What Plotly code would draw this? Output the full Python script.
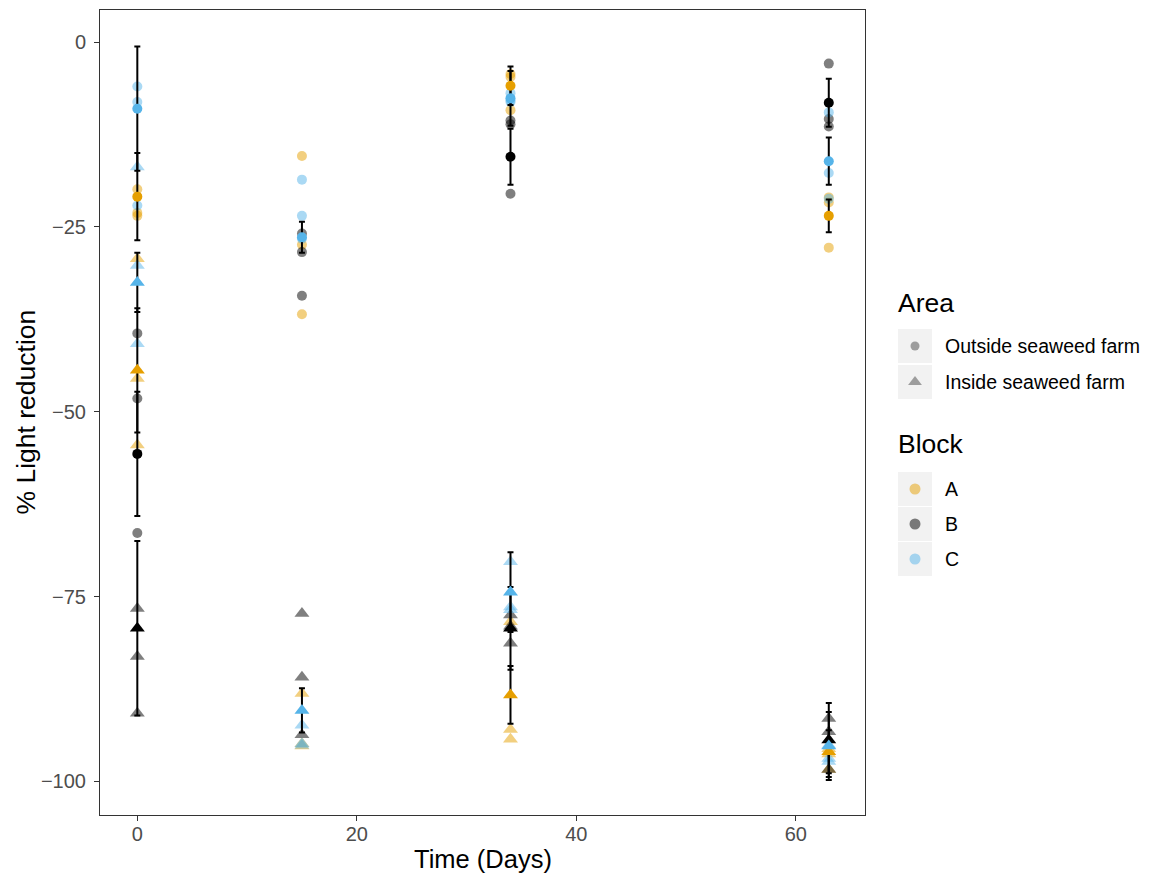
import plotly.graph_objects as go

# ---------------- data ----------------
rep_days = [0, 0, 0, 15, 15, 15, 34, 34, 34, 63, 63, 63]

# Outside seaweed farm (circles) replicate values
A_outside = [-19.9, -23.1, -23.5, -15.4, -27.4, -36.8, -4.3, -4.7, -9.2, -21.0, -21.7, -27.8]
B_outside = [-39.4, -48.2, -66.4, -25.9, -28.4, -34.3, -10.6, -11.1, -20.5, -2.9, -10.4, -11.4]
C_outside = [-6.0, -8.1, -22.1, -18.6, -23.5, -26.6, -6.9, -7.9, -8.1, -9.5, -17.7, -21.2]

# Inside seaweed farm (triangles) replicate values
A_inside = [-29.3, -45.5, -54.5, -88.1, -94.9, -95.2, -78.4, -93.0, -94.3, -95.6, -96.3, -98.4]
B_inside = [-76.6, -83.1, -90.8, -77.3, -85.9, -93.7, -77.5, -79.0, -81.3, -91.5, -93.3, -98.4]
C_inside = [-16.9, -30.2, -40.8, -92.4, -94.9, -95.1, -70.3, -76.4, -76.8, -95.1, -96.9, -97.3]

# Block means and standard errors
A_mean_days = [0, 34, 63]
A_outside_mean = [-20.9, -5.9, -23.5]
A_outside_se = [5.9, 2.6, 2.2]
A_inside_mean = [-44.4, -88.3, -96.0]
A_inside_se = [8.4, 3.9, 2.9]

B_mean_days = [0, 34, 63]
B_outside_mean = [-55.7, -15.5, -8.2]
B_outside_se = [8.4, 3.8, 3.25]
B_inside_mean = [-79.3, -79.3, -94.4]
B_inside_se = [11.8, 5.6, 5.0]

C_mean_days = [0, 15, 34, 63]
C_outside_mean = [-9.0, -26.4, -7.6, -16.1]
C_outside_se = [8.4, 2.1, 3.7, 3.2]
C_inside_mean = [-32.5, -90.4, -74.4, -95.2]
C_inside_se = [4.0, 3.0, 5.4, 4.6]

blocks = ["A", "B", "C"]
area_labels = ["Outside seaweed farm", "Inside seaweed farm"]
x_ticks = [0, 20, 40, 60]
y_ticks = [0, -25, -50, -75, -100]

# ---------------- style ----------------
solid = {"A": "rgb(230,159,0)", "B": "rgb(0,0,0)", "C": "rgb(86,180,233)"}
faded = {"A": "rgba(230,159,0,0.5)", "B": "rgba(0,0,0,0.5)", "C": "rgba(86,180,233,0.5)"}
FONT = "Liberation Sans, Arial, Helvetica, sans-serif"
CIRC, TRI = 10, 13
TITLE_SIZE = 26.5
LEG_SIZE = 19.5

W, H = 1153, 873
OFF = 8                                   # page offset of the figure in the browser
# panel edges in screen px (as seen in the reference)
SPL, SPR, SPT, SPB = 100, 865, 10, 815
# same edges in figure px
PL, PR, PT, PB = SPL - OFF, SPR - OFF, SPT - OFF, SPB - OFF
paper_w = W - PL
paper_h = PB - PT

fig = go.Figure()

reps = {
    ("A", "out"): A_outside, ("B", "out"): B_outside, ("C", "out"): C_outside,
    ("A", "in"): A_inside, ("B", "in"): B_inside, ("C", "in"): C_inside,
}
means = {
    ("A", "out"): (A_mean_days, A_outside_mean, A_outside_se),
    ("B", "out"): (B_mean_days, B_outside_mean, B_outside_se),
    ("C", "out"): (C_mean_days, C_outside_mean, C_outside_se),
    ("A", "in"): (A_mean_days, A_inside_mean, A_inside_se),
    ("B", "in"): (B_mean_days, B_inside_mean, B_inside_se),
    ("C", "in"): (C_mean_days, C_inside_mean, C_inside_se),
}

# replicate points
for area in ["out", "in"]:
    for b in blocks:
        fig.add_trace(go.Scatter(
            x=rep_days, y=reps[(b, area)], mode="markers", showlegend=False,
            marker=dict(symbol="circle" if area == "out" else "triangle-up",
                        size=CIRC if area == "out" else TRI,
                        color=faded[b], line=dict(width=0)),
            hoverinfo="skip"))

# error bars (under the mean points)
for key, (d, m, s) in means.items():
    fig.add_trace(go.Scatter(
        x=d, y=m, mode="markers", showlegend=False,
        marker=dict(color="rgba(0,0,0,0)", size=1),
        error_y=dict(type="data", array=s, visible=True, color="black",
                     thickness=2, width=3),
        hoverinfo="skip"))

# mean points
for key, (d, m, s) in means.items():
    b, area = key
    fig.add_trace(go.Scatter(
        x=d, y=m, mode="markers", showlegend=False,
        marker=dict(symbol="circle" if area == "out" else "triangle-up",
                    size=CIRC if area == "out" else TRI,
                    color=solid[b], line=dict(width=0))))

# ---------------- custom legend (overlay axes in screen-pixel units) ----------------
LX0 = 890
key_x0, key_x1, key_cx, text_x = 898, 932, 915, 943
area_keys = [(329, 363), (365, 399)]
block_keys = [(472, 506), (507, 541), (542, 576)]
shapes = []
for (y0, y1) in area_keys + block_keys:
    shapes.append(dict(type="rect", xref="x2", yref="y2", x0=key_x0, x1=key_x1,
                       y0=y0, y1=y1, fillcolor="#F2F2F2", line=dict(width=0),
                       layer="below"))

area_cy = [(a + b) / 2 for a, b in area_keys]
block_cy = [(a + b) / 2 for a, b in block_keys]
fig.add_trace(go.Scatter(x=[key_cx, key_cx], y=area_cy, xaxis="x2", yaxis="y2",
                         mode="markers", showlegend=False, hoverinfo="skip",
                         marker=dict(symbol=["circle", "triangle-up"], size=[9, 12],
                                     color="rgba(0,0,0,0.5)", line=dict(width=0))))
fig.add_trace(go.Scatter(x=[key_cx] * 3, y=block_cy, xaxis="x2", yaxis="y2",
                         mode="markers", showlegend=False, hoverinfo="skip",
                         marker=dict(symbol="circle", size=11,
                                     color=[faded[b] for b in blocks], line=dict(width=0))))

annotations = [
    dict(text="Area", x=896, y=303, xref="x2", yref="y2", xanchor="left",
         yanchor="middle", showarrow=False, font=dict(size=TITLE_SIZE, color="black", family=FONT)),
    dict(text="Block", x=896, y=444, xref="x2", yref="y2", xanchor="left",
         yanchor="middle", showarrow=False, font=dict(size=TITLE_SIZE, color="black", family=FONT)),
]
for lab, cy in zip(area_labels, area_cy):
    annotations.append(dict(text=lab, x=text_x, y=cy, xref="x2", yref="y2",
                            xanchor="left", yanchor="middle", showarrow=False,
                            font=dict(size=LEG_SIZE, color="black", family=FONT)))
for lab, cy in zip(blocks, block_cy):
    annotations.append(dict(text=lab, x=text_x, y=cy, xref="x2", yref="y2",
                            xanchor="left", yanchor="middle", showarrow=False,
                            font=dict(size=LEG_SIZE, color="black", family=FONT)))

# axis titles (screen px -> paper)
def px_to_paper_x(sx):
    return (sx - OFF - PL) / paper_w

def px_to_paper_y(sy):
    return (PB - (sy - OFF)) / paper_h

annotations.append(dict(text="Time (Days)", x=px_to_paper_x((SPL + SPR) / 2),
                        y=px_to_paper_y(843), xref="paper", yref="paper",
                        xanchor="center", yanchor="top", showarrow=False,
                        font=dict(size=25.5, color="black", family=FONT)))
annotations.append(dict(text="% Light reduction", x=px_to_paper_x(25), y=0.5,
                        xref="paper", yref="paper", xanchor="center", yanchor="middle",
                        textangle=-90, showarrow=False,
                        font=dict(size=TITLE_SIZE, color="black", family=FONT)))

axis_common = dict(showgrid=False, zeroline=False, showline=True, mirror=True,
                   linecolor="#333333", linewidth=1, ticks="outside", ticklen=5,
                   tickwidth=1, tickcolor="#333333",
                   tickfont=dict(size=20, color="#4D4D4D", family=FONT))

fig.update_layout(
    width=W, height=H,
    margin=dict(l=PL, r=0, t=PT, b=H - PB, pad=0),
    paper_bgcolor="white", plot_bgcolor="white",
    font=dict(family=FONT),
    xaxis=dict(domain=[0, (PR - PL) / paper_w], range=[-3.4, 66.3],
               tickvals=x_ticks, ticklabelstandoff=-4, **axis_common),
    yaxis=dict(range=[-104.55, 4.35], tickvals=y_ticks, ticklabelstandoff=4,
               **axis_common),
    xaxis2=dict(domain=[(LX0 - OFF - PL) / paper_w, 1], range=[LX0, W + OFF],
                anchor="y2", visible=False, fixedrange=True),
    yaxis2=dict(domain=[0, 1], range=[SPB, SPT], anchor="x2", visible=False,
                fixedrange=True),
    shapes=shapes,
    annotations=annotations,
)

fig.write_html("out.html")
